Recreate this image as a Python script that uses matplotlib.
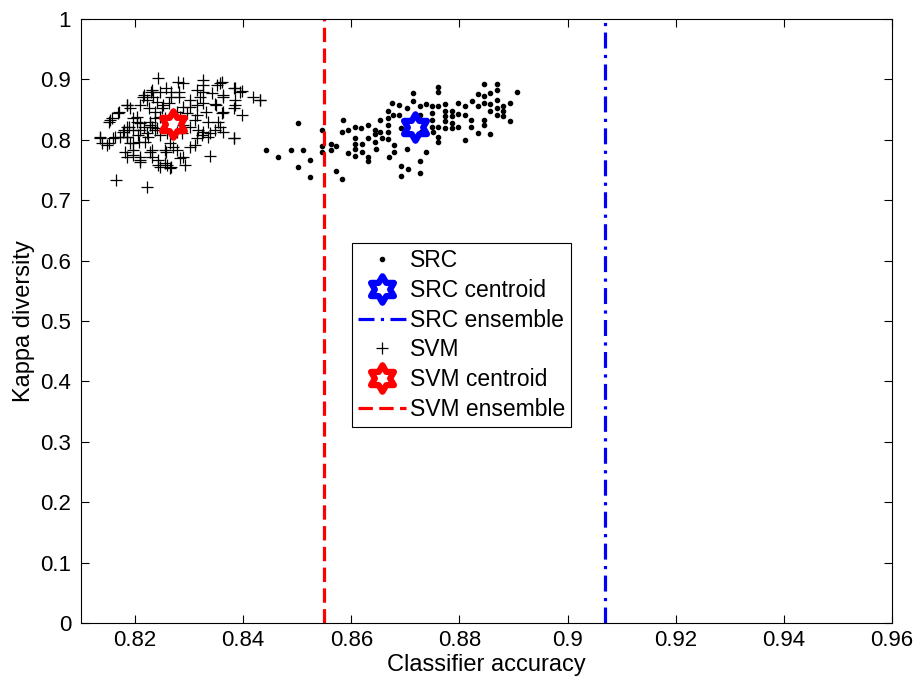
import numpy as np
import matplotlib.pyplot as plt
from matplotlib.path import Path

plt.rcParams['font.family'] = ['Liberation Sans', 'DejaVu Sans']

# SRC classifiers (accuracy, kappa diversity)
src_acc = [0.8442, 0.8464, 0.8489, 0.8511, 0.8501, 0.8524, 0.8501, 0.8524, 0.8546, 0.8546,
           0.8546, 0.8562, 0.8562, 0.8572, 0.8571, 0.8583, 0.8585, 0.8583, 0.8594, 0.8593,
           0.8607, 0.8607, 0.8607, 0.8607, 0.8607, 0.8618, 0.8620, 0.8620, 0.8631, 0.8631,
           0.8631, 0.8631, 0.8643, 0.8643, 0.8643, 0.8645, 0.8654, 0.8654, 0.8657, 0.8667,
           0.8667, 0.8667, 0.8667, 0.8667, 0.8669, 0.8676, 0.8677, 0.8679, 0.8679, 0.8689,
           0.8689, 0.8692, 0.8692, 0.8692, 0.8703, 0.8703, 0.8704, 0.8715, 0.8715, 0.8716,
           0.8727, 0.8727, 0.8727, 0.8727, 0.8728, 0.8739, 0.8739, 0.8750, 0.8750, 0.8750,
           0.8750, 0.8752, 0.8761, 0.8761, 0.8761, 0.8761, 0.8761, 0.8761, 0.8774, 0.8774,
           0.8774, 0.8774, 0.8774, 0.8786, 0.8786, 0.8786, 0.8786, 0.8798, 0.8798, 0.8798,
           0.8810, 0.8810, 0.8810, 0.8822, 0.8822, 0.8824, 0.8835, 0.8835, 0.8835, 0.8846,
           0.8846, 0.8846, 0.8846, 0.8846, 0.8857, 0.8857, 0.8857, 0.8857, 0.8869, 0.8869,
           0.8869, 0.8869, 0.8869, 0.8881, 0.8881, 0.8881, 0.8893, 0.8893, 0.8907]
src_kap = [0.7835, 0.7722, 0.7835, 0.7835, 0.8276, 0.7666, 0.7553, 0.7383, 0.8163, 0.7892,
           0.7795, 0.7937, 0.7835, 0.7892, 0.7485, 0.7343, 0.8332, 0.8123, 0.8163, 0.7784,
           0.8219, 0.8033, 0.7937, 0.7841, 0.7739, 0.8191, 0.7937, 0.7795, 0.8247, 0.8033,
           0.7722, 0.7654, 0.8163, 0.8089, 0.7965, 0.7841, 0.8332, 0.8134, 0.8033, 0.8473,
           0.8360, 0.8247, 0.8134, 0.8021, 0.7711, 0.8615, 0.8417, 0.7920, 0.7795, 0.8570,
           0.8417, 0.8191, 0.7569, 0.7400, 0.8530, 0.7852, 0.7524, 0.8767, 0.8643, 0.8389,
           0.8558, 0.8417, 0.7654, 0.7456, 0.8134, 0.8586, 0.7795, 0.8558, 0.8445, 0.8332,
           0.8219, 0.8134, 0.8869, 0.8784, 0.8558, 0.8219, 0.8050, 0.7965, 0.8586, 0.8473,
           0.8389, 0.8304, 0.8191, 0.8473, 0.8389, 0.8276, 0.8191, 0.8615, 0.8428, 0.8219,
           0.8558, 0.8417, 0.7993, 0.8332, 0.8219, 0.8643, 0.8756, 0.8558, 0.8106, 0.8925,
           0.8728, 0.8615, 0.8332, 0.8247, 0.8773, 0.8586, 0.8485, 0.8089, 0.8925, 0.8824,
           0.8654, 0.8530, 0.8417, 0.8558, 0.8473, 0.8389, 0.8615, 0.8315, 0.8784]

# SVM classifiers
svm_acc = [0.8243, 0.8280, 0.8289, 0.8325, 0.8326, 0.8358, 0.8351, 0.8383, 0.8394, 0.8418,
           0.8431, 0.8216, 0.8229, 0.8234, 0.8246, 0.8257, 0.8266, 0.8266, 0.8282, 0.8282,
           0.8314, 0.8325, 0.8320, 0.8342, 0.8362, 0.8385, 0.8385, 0.8397, 0.8185, 0.8191,
           0.8170, 0.8157, 0.8151, 0.8197, 0.8210, 0.8222, 0.8225, 0.8240, 0.8249, 0.8262,
           0.8289, 0.8302, 0.8302, 0.8314, 0.8326, 0.8350, 0.8363, 0.8332, 0.8314, 0.8296,
           0.8311, 0.8317, 0.8335, 0.8357, 0.8348, 0.8339, 0.8323, 0.8314, 0.8302, 0.8289,
           0.8286, 0.8277, 0.8260, 0.8246, 0.8237, 0.8228, 0.8216, 0.8210, 0.8203, 0.8188,
           0.8179, 0.8185, 0.8173, 0.8160, 0.8151, 0.8136, 0.8139, 0.8197, 0.8207, 0.8219,
           0.8197, 0.8185, 0.8210, 0.8210, 0.8231, 0.8231, 0.8243, 0.8246, 0.8259, 0.8265,
           0.8277, 0.8283, 0.8289, 0.8292, 0.8256, 0.8271, 0.8302, 0.8339, 0.8383, 0.8164,
           0.8222, 0.8246, 0.8256, 0.8237, 0.8277, 0.8283, 0.8231, 0.8222,
           0.8231, 0.8215, 0.8185, 0.8169, 0.8154, 0.8203, 0.8237, 0.8252, 0.8185, 0.8178,
           0.8197, 0.8209, 0.8228, 0.8240, 0.8135, 0.8148, 0.8163, 0.8185, 0.8191, 0.8206,
           0.8224, 0.8264, 0.8181, 0.8197, 0.8209, 0.8228, 0.8258, 0.8243, 0.8255, 0.8267,
           0.8360, 0.8384, 0.8397, 0.8432, 0.8383, 0.8362, 0.8347, 0.8360, 0.8353, 0.8362,
           0.8383, 0.8311, 0.8326, 0.8335]
svm_kap = [0.9018, 0.8963, 0.8935, 0.8990, 0.8907, 0.8946, 0.8907, 0.8852, 0.8797, 0.8714,
           0.8659, 0.8742, 0.8797, 0.8714, 0.8797, 0.8852, 0.8797, 0.8714, 0.8797, 0.8714,
           0.8825, 0.8797, 0.8714, 0.8769, 0.8742, 0.8659, 0.8576, 0.8411, 0.8576, 0.8521,
           0.8466, 0.8355, 0.8300, 0.8355, 0.8576, 0.8659, 0.8521, 0.8631, 0.8521, 0.8604,
           0.8549, 0.8659, 0.8549, 0.8576, 0.8604, 0.8576, 0.8466, 0.8466, 0.8411, 0.8438,
           0.8328, 0.8162, 0.8300, 0.8217, 0.8162, 0.8107, 0.8079, 0.8024, 0.8217, 0.8245,
           0.8107, 0.8135, 0.8107, 0.8079, 0.8162, 0.8300, 0.8217, 0.8162, 0.8300, 0.8217,
           0.8162, 0.8052, 0.8052, 0.8024, 0.7952, 0.8024, 0.7941, 0.7941, 0.7969, 0.7969,
           0.7831, 0.7721, 0.7721, 0.7638, 0.7831, 0.7721, 0.7665, 0.7555, 0.7583, 0.7527,
           0.7831, 0.7693, 0.7721, 0.7583, 0.7831, 0.7886, 0.7886, 0.7732, 0.8024, 0.7334,
           0.7213, 0.8383, 0.8355, 0.8355, 0.8466, 0.8383, 0.8217, 0.8107,
           0.8824, 0.8714, 0.8576, 0.8438, 0.8327, 0.8382, 0.8465, 0.8576, 0.8217, 0.8134,
           0.8162, 0.8272, 0.8244, 0.8189, 0.8051, 0.7913, 0.8051, 0.8051, 0.7941, 0.8079,
           0.8051, 0.7941, 0.7803, 0.7748, 0.7665, 0.7803, 0.7803, 0.7582, 0.7610, 0.7555,
           0.8962, 0.8852, 0.8807, 0.8658, 0.8531, 0.8714, 0.8587, 0.8438, 0.8300, 0.8134,
           0.8035, 0.7913, 0.8134, 0.8051]

src_centroid = (0.8717, 0.822)
svm_centroid = (0.8270, 0.826)
src_ensemble = 0.907
svm_ensemble = 0.855

# six pointed star outline (MATLAB hexagram)
ang = np.pi / 2 + np.arange(12) * np.pi / 6
rad = np.where(np.arange(12) % 2 == 0, 1.0, 1 / np.sqrt(3))
verts = np.column_stack([rad * np.cos(ang), rad * np.sin(ang)])
hexagram = Path(np.vstack([verts, verts[:1]]), closed=True)

fig = plt.figure(figsize=(9.17, 6.84), dpi=100)
ax = fig.add_axes([0.0883, 0.0892, 0.8844, 0.8830])

ax.plot(src_acc, src_kap, '.', color='k', ms=6, label='SRC')
ax.plot(*src_centroid, ls='none', marker=hexagram, ms=19, mfc='none',
        mec='#0000ff', mew=4.5, label='SRC centroid')
ax.axvline(src_ensemble, color='#0000ff', lw=2.3, dashes=(5, 2, 1, 2),
           label='SRC ensemble')
ax.plot(svm_acc, svm_kap, '+', color='k', ms=9, mew=0.9, label='SVM')
ax.plot(*svm_centroid, ls='none', marker=hexagram, ms=19, mfc='none',
        mec='#ff0000', mew=4.5, label='SVM centroid')
ax.axvline(svm_ensemble, color='#ff0000', lw=2.3, dashes=(4.5, 2),
           label='SVM ensemble')

ax.set_xlim(0.81, 0.96)
ax.set_ylim(0, 1)
ax.set_xticks(np.arange(0.82, 0.961, 0.02))
ax.set_xticklabels(['0.82', '0.84', '0.86', '0.88', '0.9', '0.92', '0.94', '0.96'])
ax.set_yticks(np.arange(0, 1.01, 0.1))
ax.set_yticklabels(['0', '0.1', '0.2', '0.3', '0.4', '0.5', '0.6', '0.7', '0.8', '0.9', '1'])
ax.tick_params(direction='in', length=6, width=0.8, top=True, right=True,
               labelsize=16)
ax.tick_params(axis='x', pad=5)
ax.tick_params(axis='y', pad=7)
for s in ax.spines.values():
    s.set_linewidth(0.8)

ax.set_xlabel('Classifier accuracy', fontsize=17, labelpad=2)
ax.set_ylabel('Kappa diversity', fontsize=17, labelpad=4)

leg = ax.legend(loc='upper left', bbox_to_anchor=(0.334, 0.629), fontsize=16.5,
                fancybox=False, edgecolor='k', framealpha=1, handlelength=2.1,
                borderpad=0.25, labelspacing=0.3, handletextpad=0.2,
                borderaxespad=0)
leg.get_frame().set_linewidth(0.8)

fig.savefig('out.png', dpi=100, facecolor='white')
